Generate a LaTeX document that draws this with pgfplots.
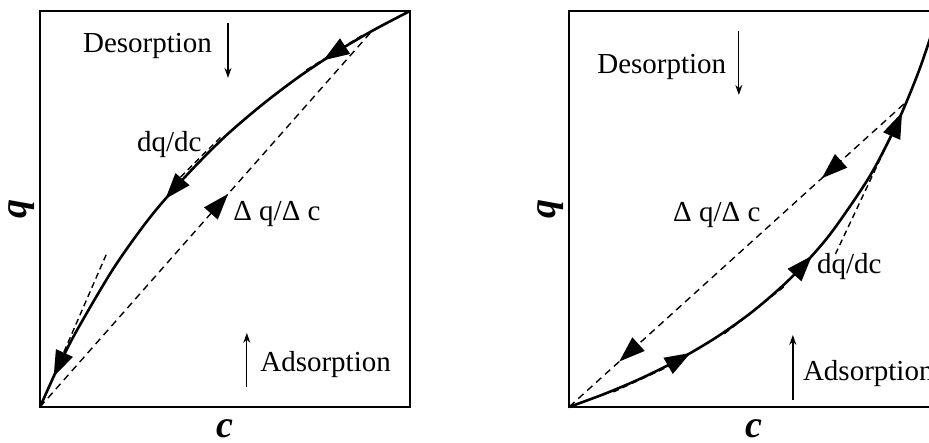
\documentclass[border=0pt]{standalone}
\usepackage{fontspec}
\setmainfont{Liberation Serif}
\usepackage{pgfplots}
\pgfplotsset{compat=1.18}
\usetikzlibrary{decorations.markings,arrows.meta}

\tikzset{
  bigtip/.style={decoration={markings,#1},postaction={decorate}},
  tri/.tip={Triangle[length=26pt,width=18pt]},
}
\pgfplotsset{
  panel/.style={
    scale only axis, width=370pt, height=396pt,
    xmin=0, xmax=1, ymin=0, ymax=1,
    xtick=\empty, ytick=\empty,
    axis line style={line width=1.6pt},
    clip=false,
  },
  isotherm/.style={line width=2.6pt, smooth},
  chord/.style={line width=1.4pt, dash pattern=on 7pt off 5pt},
  tangent/.style={line width=1.4pt, dash pattern=on 6pt off 4pt},
}
\newcommand{\lbl}{\fontsize{29}{32}\selectfont}
\newcommand{\axlbl}{\fontsize{38}{40}\selectfont\bfseries\itshape}

\begin{document}
\begin{tikzpicture}
\path[use as bounding box] (0pt,0pt) rectangle (929pt,442pt);
\clip (0pt,0pt) rectangle (929pt,442pt);

% favourable (Langmuir-type) isotherm
\begin{axis}[panel, at={(40pt,35pt)}, anchor=south west]
  % isotherm, traced from high to low concentration (desorption)
  \addplot[isotherm, bigtip={
      mark=at position 0.18 with {\arrow{tri}},
      mark=at position 0.56 with {\arrow{tri}},
      mark=at position 0.94 with {\arrow{tri}}}]
    coordinates {(1,1) (0.9,0.951) (0.8,0.896) (0.7,0.834) (0.6,0.763)
                 (0.5,0.683) (0.4,0.589) (0.3,0.482) (0.2,0.352)
                 (0.1,0.194) (0.05,0.103) (0,0)};
  % chord, adsorption front
  \addplot[chord, bigtip={mark=at position 0.57 with {\arrow{tri}}}]
    coordinates {(0,0) (0.892,0.944)};
  % local slopes
  \addplot[tangent] coordinates {(0.72,0.851) (0.87,0.938)};
  \addplot[tangent] coordinates {(0.38,0.581) (0.49,0.683)};
  \addplot[tangent] coordinates {(0,0) (0.18,0.387)};

  \node[anchor=base west, inner sep=0pt] at (axis cs:0.116,0.894) {\lbl Desorption};
  \draw[line width=1.3pt, -{Stealth[length=10pt,width=7pt]}] (axis cs:0.508,0.970) -- (axis cs:0.508,0.831);
  \node[anchor=base west, inner sep=0pt] at (axis cs:0.595,0.089) {\lbl Adsorption};
  \draw[line width=1.3pt, -{Stealth[length=10pt,width=7pt]}] (axis cs:0.559,0.0505) -- (axis cs:0.559,0.187);
  \node[anchor=base west, inner sep=0pt] at (axis cs:0.522,0.472) {\lbl Δ q/Δ c};
  \node[anchor=base west, inner sep=0pt] at (axis cs:0.262,0.646) {\lbl dq/dc};

  \node[inner sep=0pt] at (rel axis cs:0.5,-0.055) {\axlbl c};
  \node[inner sep=0pt, rotate=90] at (rel axis cs:-0.051,0.5) {\axlbl q};
\end{axis}

% unfavourable (anti-Langmuir-type) isotherm
\begin{axis}[panel, at={(569pt,35pt)}, anchor=south west]
  % isotherm, traced from low to high concentration (adsorption)
  \addplot[isotherm, bigtip={
      mark=at position 0.235 with {\arrow{tri}},
      mark=at position 0.51 with {\arrow{tri}},
      mark=at position 0.81 with {\arrow{tri}}}]
    coordinates {(0,0) (0.1,0.0346) (0.2,0.0746) (0.3,0.1215) (0.4,0.177)
                 (0.5,0.2439) (0.6,0.3261) (0.7,0.4294) (0.8,0.5634)
                 (0.85,0.6464) (0.9,0.7438) (0.95,0.8597) (1,1)};
  % chord, desorption front
  \addplot[chord, bigtip={
      mark=at position 0.245 with {\arrow{tri}},
      mark=at position 0.85 with {\arrow{tri}}}]
    coordinates {(0.905,0.765) (0,0)};
  % local slopes
  \addplot[tangent] coordinates {(0.72,0.386) (0.89,0.723)};
  \addplot[tangent] coordinates {(0.42,0.185) (0.58,0.303)};
  \addplot[tangent] coordinates {(0.12,0.038) (0.28,0.107)};

  \node[anchor=base west, inner sep=0pt] at (axis cs:0.076,0.843) {\lbl Desorption};
  \draw[line width=1.3pt, -{Stealth[length=10pt,width=7pt]}] (axis cs:0.459,0.949) -- (axis cs:0.459,0.788);
  \node[anchor=base west, inner sep=0pt] at (axis cs:0.632,0.068) {\lbl Adsorption};
  \draw[line width=1.3pt, -{Stealth[length=10pt,width=7pt]}] (axis cs:0.605,0.018) -- (axis cs:0.605,0.182);
  \node[anchor=base west, inner sep=0pt] at (axis cs:0.281,0.468) {\lbl Δ q/Δ c};
  \node[anchor=base west, inner sep=0pt] at (axis cs:0.670,0.338) {\lbl dq/dc};

  \node[inner sep=0pt] at (rel axis cs:0.5,-0.055) {\axlbl c};
  \node[inner sep=0pt, rotate=90] at (rel axis cs:-0.049,0.5) {\axlbl q};
\end{axis}
\end{tikzpicture}
\end{document}
